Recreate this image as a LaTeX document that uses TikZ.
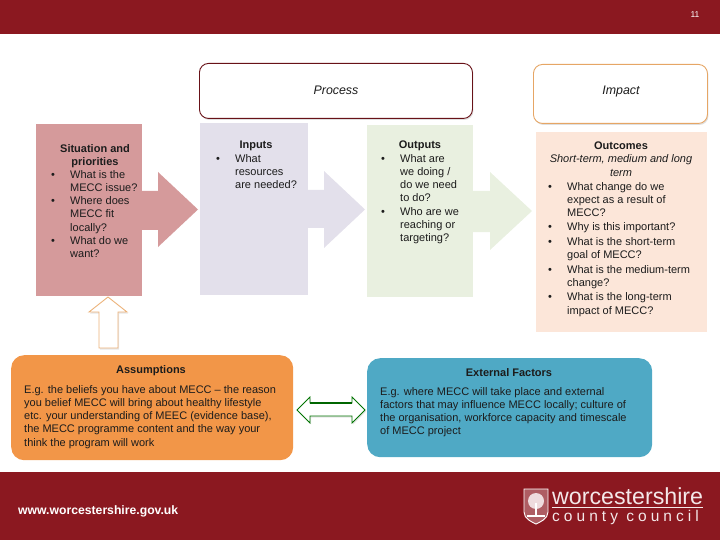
\documentclass[tikz,border=0pt]{standalone}
\usepackage{fontspec}
\setmainfont{Liberation Sans}
\usetikzlibrary{arrows.meta,positioning,shadows}
\definecolor{barred}{HTML}{8B1820}
\definecolor{situationred}{HTML}{D59A9B}
\definecolor{inputlilac}{HTML}{E3E0EB}
\definecolor{outputgreen}{HTML}{E9F0E0}
\definecolor{outcomepeach}{HTML}{FCE6D9}
\definecolor{assumeorange}{HTML}{F29648}
\definecolor{factorblue}{HTML}{4FA9C5}
\definecolor{inktext}{HTML}{1C1C1C}
\tikzset {
  >=Stealth,
  every node/.style={font=\fontsize{11}{13.1}\selectfont,text=inktext},
  panel/.style={inner sep=0pt,minimum width=#1},
  headbox/.style={draw,line width=.9pt,fill=white,rounded corners=9pt,inner sep=0pt,
    drop shadow={shadow xshift=1pt,shadow yshift=-1.5pt,opacity=.25}},
  softbox/.style={rounded corners=13pt,inner sep=0pt},
  blocktext/.style={align=left,inner sep=0pt,anchor=north west},
  midtext/.style={align=center,inner sep=0pt,anchor=north},
}
\newcommand{\bl}{\makebox[20pt][l]{\kern1pt\textbullet}}
\newcommand{\nb}{\hspace*{20pt}}

\begin{document}
\begin{tikzpicture}[x=1pt,y=-1pt]
  \useasboundingbox (0,0) rectangle (720,540);
  % bars
  \node[fill=barred,panel=720pt,minimum height=34pt,anchor=north west] (topbar) at (0,0) {};
  \node[fill=barred,panel=720pt,minimum height=68pt,anchor=north west] (footbar) at (0,472) {};
  \node[anchor=center,inner sep=0pt,text=white,font=\fontsize{8.5}{10}\selectfont] (pagenum) at (695,15) {11};
  \node[anchor=west,inner sep=0pt,text=white,font=\fontsize{12.2}{14}\selectfont\bfseries] (website) at (18,511) {www.worcestershire.gov.uk};

  % big arrows
  \foreach \xa/\xb/\xc/\ya/\yb/\yc/\yd/\col in {
      140/158/198/191/230/172/247/situationred,
      306/324/365/190/228/171/248/inputlilac,
      471/490/532/191/232/172/250/outputgreen} {
    \fill[\col] (\xa,\ya) -- (\xb,\ya) -- (\xb,\yc) -- (\xc,{(\yc+\yd)/2}) -- (\xb,\yd) -- (\xb,\yb) -- (\xa,\yb) -- cycle;
  }

  % panels
  \node[fill=situationred,panel=106pt,minimum height=172pt,anchor=north west] (situation) at (36,124) {};
  \node[fill=inputlilac,panel=108pt,minimum height=172pt,anchor=north west] (inputs) at (200,123) {};
  \node[fill=outputgreen,panel=106pt,minimum height=172pt,anchor=north west] (outputs) at (367,125) {};
  \node[fill=outcomepeach,panel=171pt,minimum height=200pt,anchor=north west] (outcomes) at (536,132) {};
  \node[headbox,draw=barred!75!black,minimum width=273pt,minimum height=55pt,anchor=north west] (process) at (199,63) {};
  \node[headbox,draw=orange!45!brown!70,minimum width=174pt,minimum height=59pt,anchor=north west] (impact) at (533,64) {};
  \node[inner sep=0pt,font=\fontsize{12.4}{14}\selectfont\itshape] (processlabel) at (336,90) {Process};
  \node[inner sep=0pt,font=\fontsize{12.4}{14}\selectfont\itshape] (impactlabel) at (621,92) {Impact};

  % panel texts
  \node[midtext] (situationhead) at (95,144) {\textbf{Situation and}\\\textbf{priorities}};
  \node[blocktext] (situationtext) at (50,170.5) {\bl What is the\\\nb MECC issue?\\\bl Where does\\\nb MECC fit\\\nb locally?\\\bl What do we\\\nb want?};
  \node[midtext] (inputshead) at (256,140.5) {\textbf{Inputs}};
  \node[blocktext] (inputstext) at (215,154.5) {\bl What\\\nb resources\\\nb are needed?};
  \node[midtext] (outputshead) at (420,140.5) {\textbf{Outputs}};
  \node[blocktext] (outputstext) at (380,154.5) {\bl What are\\\nb we doing /\\\nb do we need\\\nb to do?\\\bl Who are we\\\nb reaching or\\\nb targeting?};
  \node[midtext] (outcomeshead) at (621,142) {\textbf{Outcomes}\\\textit{Short-term, medium and long}\\\textit{term}};
  \node[blocktext] (outcomestext) at (547,182.5) {\bl What change do we\\\nb expect as a result of\\\nb MECC?\\[1pt]\bl Why is this important?\\[1.5pt]\bl What is the short-term\\\nb goal of MECC?\\[1.5pt]\bl What is the medium-term\\\nb change?\\[1.5pt]\bl What is the long-term\\\nb impact of MECC?};

  % up arrow
  \draw[draw=orange!50!brown!60,line width=.9pt,fill=white,
    drop shadow={shadow xshift=1pt,shadow yshift=-1.5pt,opacity=.2}]
    (108,297) -- (127,312) -- (118,312) -- (118,348) -- (99,348) -- (99,312) -- (89,312) -- cycle;

  % bottom boxes
  \node[softbox,fill=assumeorange,minimum width=282pt,minimum height=105pt,anchor=north west] (assumptions) at (11,355) {};
  \node[softbox,fill=factorblue,minimum width=285pt,minimum height=99pt,anchor=north west] (factors) at (367,358) {};
  \node[midtext] (assumptionshead) at (151,365.5) {\textbf{Assumptions}};
  \node[blocktext] (assumptionstext) at (24,385.5) {E.g. the beliefs you have about MECC -- the reason\\you belief MECC will bring about healthy lifestyle\\etc. your understanding of MEEC (evidence base),\\the MECC programme content and the way your\\think the program will work};
  \node[midtext] (factorshead) at (509,368.5) {\textbf{External Factors}};
  \node[blocktext] (factorstext) at (380,387.5) {E.g. where MECC will take place and external\\factors that may influence MECC locally; culture of\\the organisation, workforce capacity and timescale\\of MECC project};

  % double arrow
  \draw[draw=green!45!black,line width=.8pt,fill=white,
    drop shadow={shadow xshift=1pt,shadow yshift=-1.5pt,opacity=.2}]
    (297,410) -- (310,397) -- (310,403) -- (352,403) -- (352,397) -- (365,410) -- (352,423) -- (352,416) -- (310,416) -- (310,423) -- cycle;
  \draw[green!40!black,line width=1.2pt] (310,403) -- (352,403);

  % logo
  \draw[white,line width=.9pt,fill=barred!70!white] (524,489) -- (548,489) -- (548,512) .. controls (548,519) and (540,522) .. (536,524) .. controls (532,522) and (524,519) .. (524,512) -- cycle;
  \fill[white!85!barred] (536,501) circle[radius=8pt];
  \fill[white] (535,503) rectangle (537,515);
  \fill[white] (527,515) rectangle (545,517);
  \node[anchor=south west,inner sep=0pt,text=white!90!barred,font=\fontsize{23.2}{25}\selectfont] (logoname) at (552,505) {worcestershire};
  \draw[white!90!barred,line width=.6pt] (552,507) -- (703,507);
  \node[anchor=north west,inner sep=0pt,text=white!90!barred,font=\fontsize{15.5}{17}\selectfont\addfontfeature{LetterSpace=26}] (logosub) at (552,510) {county council};
\end{tikzpicture}
\end{document}
